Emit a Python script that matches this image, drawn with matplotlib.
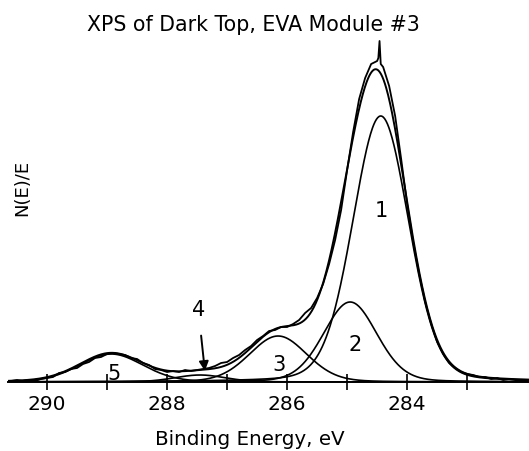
import numpy as np
import matplotlib
matplotlib.use("Agg")
import matplotlib.pyplot as plt

scan_counts = [1, 2, 1, 2, 1, 3, 4, 5, 9, 10,
               13, 14, 18, 20, 24, 25, 28, 29, 28, 27,
               24, 23, 19, 17, 13, 12, 10, 11, 10, 12,
               11, 12, 13, 14, 16, 19, 20, 24, 27, 32,
               36, 42, 46, 51, 52, 55, 55, 58, 62, 69,
               74, 84, 98, 118, 142, 172, 212, 250, 283, 304,
               318, 321, 315, 296, 266, 223, 178, 140, 108, 80,
               58, 40, 28, 19, 14, 10, 8, 7, 5, 5,
               3, 4, 2, 3, 2, 1, 2]
scan_be = np.round(290.6 - 0.1 * np.arange(len(scan_counts)), 2)

# narrow spike on top of the main peak
spike_be = [284.48, 284.46, 284.44]
spike_counts = [324, 341, 318]

# fitted components: label, centre (eV), height, FWHM (eV)
peak_labels = ["1", "2", "3", "4", "5"]
peak_centres = [284.44, 284.95, 286.15, 287.45, 288.93]
peak_heights = [266, 80, 46, 7, 28]
peak_fwhm = [1.10, 1.05, 1.13, 1.00, 1.25]
lorentz_frac = 0.15


def pseudo_voigt(x, c, h, w):
    g = np.exp(-4 * np.log(2) * ((x - c) / w) ** 2)
    l = 1.0 / (1.0 + (2 * (x - c) / w) ** 2)
    return h * ((1 - lorentz_frac) * g + lorentz_frac * l)


fig = plt.figure(figsize=(5.29, 4.52), dpi=100)
ax = fig.add_axes([8 / 529, 69 / 452, 521 / 529, 363 / 452])

be = np.concatenate([scan_be, spike_be])
cts = np.concatenate([scan_counts, spike_counts])
order = np.argsort(be)
ax.plot(be[order], cts[order], color="black", lw=1.3)

xs = np.linspace(290.65, 281.97, 800)
envelope = np.zeros_like(xs)
for c, h, w in zip(peak_centres, peak_heights, peak_fwhm):
    comp = pseudo_voigt(xs, c, h, w)
    envelope += comp
    ax.plot(xs, comp, color="black", lw=1.2)
ax.plot(xs, envelope, color="black", lw=1.4)

ax.set_xlim(290.65, 281.97)
ax.set_ylim(0, 363)
for s in ["left", "right", "top"]:
    ax.spines[s].set_visible(False)
ax.spines["bottom"].set_linewidth(1.4)
ax.set_yticks([])
ax.set_xticks([290, 288, 286, 284])
ax.set_xticks([289, 287, 285, 283], minor=True)
ax.tick_params(axis="x", which="both", direction="inout", length=11, width=1.2,
               labelsize=14.5, pad=3)

# component labels
lab_pos = {"1": (284.43, 172), "2": (284.86, 38), "3": (286.13, 18),
           "5": (288.88, 9)}
for k, (xp, yp) in lab_pos.items():
    ax.text(xp, yp, k, fontsize=15, ha="center", va="center")
ax.annotate("4", xy=(287.37, 11), xytext=(287.48, 73), fontsize=15,
            ha="center", va="center",
            arrowprops=dict(arrowstyle="-|>", color="black", lw=1.4,
                            mutation_scale=14, shrinkA=10, shrinkB=0))

fig.text(253 / 529, 1 - 25 / 452, "XPS of Dark Top, EVA Module #3",
         fontsize=14.8, ha="center", va="center")
fig.text(250 / 529, 1 - 440 / 452, "Binding Energy, eV",
         fontsize=14.3, ha="center", va="center")
fig.text(22 / 529, 1 - 188 / 452, "N(E)/E", fontsize=13, rotation=90,
         ha="center", va="center")

fig.savefig("out.png", dpi=100)
